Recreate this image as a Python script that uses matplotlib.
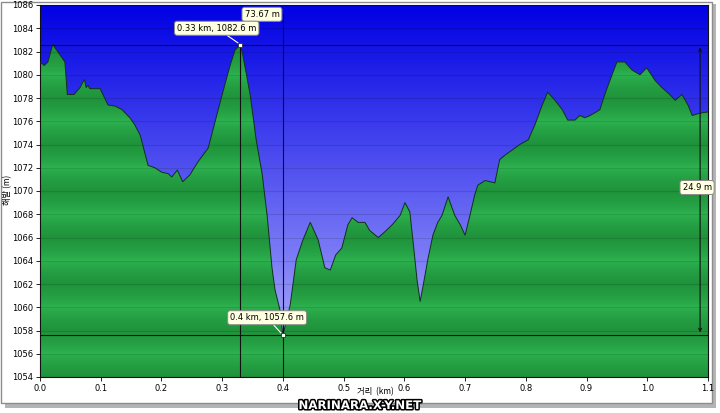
# 고도 프로파일 (거리-해발) 그래프
import numpy as np
import matplotlib
matplotlib.use("Agg")
import matplotlib.pyplot as plt
from matplotlib.patches import Rectangle
import matplotlib.patheffects as pe
from matplotlib.colors import to_rgb

plt.rcParams['font.family'] = ['DejaVu Sans', 'Noto Sans CJK KR']

# 거리 (km) / 해발 (m) - 그림에서 읽은 값
dist = [0.000, 0.007, 0.013, 0.021, 0.033, 0.041, 0.045, 0.056, 0.066, 0.073,
        0.076, 0.079, 0.082, 0.099, 0.112, 0.124, 0.135, 0.148, 0.156, 0.165,
        0.178, 0.189, 0.201, 0.211, 0.217, 0.226, 0.235, 0.247, 0.260, 0.277,
        0.288, 0.300, 0.313, 0.321, 0.330, 0.334, 0.346, 0.356, 0.366, 0.374,
        0.382, 0.387, 0.395, 0.400, 0.412, 0.422, 0.433, 0.445, 0.458, 0.469,
        0.478, 0.487, 0.497, 0.507, 0.514, 0.524, 0.535, 0.543, 0.557, 0.568,
        0.580, 0.593, 0.601, 0.609, 0.614, 0.621, 0.626, 0.631, 0.639, 0.647,
        0.655, 0.662, 0.672, 0.683, 0.692, 0.700, 0.708, 0.716, 0.721, 0.733,
        0.741, 0.749, 0.757, 0.766, 0.777, 0.790, 0.804, 0.815, 0.827, 0.836,
        0.848, 0.860, 0.869, 0.881, 0.889, 0.897, 0.906, 0.916, 0.922, 0.930,
        0.942, 0.950, 0.963, 0.975, 0.988, 0.999, 1.013, 1.024, 1.037, 1.046,
        1.057, 1.067, 1.074, 1.087, 1.100]
elev = [1081.1, 1080.8, 1081.1, 1082.6, 1081.7, 1081.1, 1078.3, 1078.3, 1078.9, 1079.6,
        1078.9, 1079.1, 1078.8, 1078.8, 1077.4, 1077.3, 1077.0, 1076.3, 1075.7, 1074.8,
        1072.2, 1072.0, 1071.6, 1071.5, 1071.2, 1071.8, 1070.8, 1071.4, 1072.5, 1073.7,
        1075.9, 1078.3, 1080.8, 1082.1, 1082.6, 1081.7, 1078.3, 1074.4, 1071.4, 1067.9,
        1063.4, 1061.5, 1059.8, 1057.6, 1060.2, 1064.1, 1065.8, 1067.3, 1065.8, 1063.4,
        1063.2, 1064.5, 1065.1, 1067.1, 1067.7, 1067.3, 1067.3, 1066.6, 1066.0, 1066.5,
        1067.1, 1067.9, 1069.0, 1068.2, 1065.8, 1062.3, 1060.5, 1061.9, 1064.2, 1066.2,
        1067.3, 1067.9, 1069.5, 1067.9, 1067.1, 1066.2, 1067.9, 1069.7, 1070.5, 1070.9,
        1070.8, 1070.7, 1072.7, 1073.1, 1073.5, 1074.0, 1074.4, 1075.7, 1077.4, 1078.5,
        1077.8, 1077.0, 1076.1, 1076.1, 1076.5, 1076.3, 1076.5, 1076.8, 1077.0, 1078.3,
        1080.0, 1081.1, 1081.1, 1080.4, 1080.0, 1080.6, 1079.5, 1078.9, 1078.3, 1077.8,
        1078.3, 1077.4, 1076.5, 1076.7, 1076.8]

x_ticks = [0.0, 0.1, 0.2, 0.3, 0.4, 0.5, 0.6, 0.7, 0.8, 0.9, 1.0, 1.1]
y_ticks = list(range(1054, 1087, 2))

p_max = (0.33, 1082.6)
p_min = (0.40, 1057.6)

ymin, ymax = 1054, 1086
xmin, xmax = 0.0, 1.1

fig = plt.figure(figsize=(7.2, 4.13), dpi=100)
fig.patch.set_facecolor('white')
ax = fig.add_axes([40/720, 1-377/413, 668/720, 372/413])

# 파란 배경 그라데이션
n = 600
yy = np.linspace(ymin, ymax, n)
top = np.array(to_rgb('#0000e4'))
bot = np.array(to_rgb('#b8b8ff'))
t = ((yy - ymin) / (ymax - ymin))[:, None]
blue = bot + (top - bot) * t
ax.imshow(blue[:, None, :], extent=[xmin, xmax, ymin, ymax], aspect='auto',
          origin='lower', zorder=0, interpolation='bilinear')

# 초록 줄무늬 채우기
light = np.array(to_rgb('#2fb652'))
dark = np.array(to_rgb('#1a8734'))
ph = ((yy - 1054) % 4) / 4
b = np.clip(np.abs(ph - 0.5) * 2, 0, 1) ** 0.6   # 1056 근처 밝게
b = 1 - b
green = dark + (light - dark) * (0.25 + 0.75 * b[:, None])
poly = ax.fill_between(dist, elev, ymin, color='none', zorder=1)
img = ax.imshow(green[:, None, :], extent=[xmin, xmax, ymin, ymax], aspect='auto',
                origin='lower', zorder=1, interpolation='bilinear')
img.set_clip_path(poly.get_paths()[0], transform=ax.transData)
ax.plot(dist, elev, color='#123018', lw=0.7, zorder=3)

for yv in y_ticks:
    ax.axhline(yv, color='k', alpha=0.12, lw=0.8, zorder=2)

ax.set_xlim(xmin, xmax)
ax.set_ylim(ymin, ymax)
ax.set_xticks(x_ticks)
ax.set_yticks(y_ticks)
ax.set_xticklabels(['%.1f' % v for v in x_ticks])
ax.tick_params(labelsize=6, length=3, width=0.6, pad=2)
for s in ax.spines.values():
    s.set_linewidth(0.8)
    s.set_color('#101010')

# 최고/최저 표시선
ax.axhline(p_max[1], color='#101010', lw=0.8, zorder=4)
ax.axhline(p_min[1], color='#101010', lw=0.8, zorder=4)
ax.plot([p_max[0], p_max[0]], [ymin, p_max[1]], color='#101010', lw=0.8, zorder=4)
ax.plot([p_min[0], p_min[0]], [ymin, 1085.2], color='#101010', lw=0.8, zorder=4)

# 치수선
ax.annotate('', xy=(p_min[0], 1085.2), xytext=(p_max[0], 1085.2),
            arrowprops=dict(arrowstyle='<->', color='#101010', lw=0.8,
                            mutation_scale=5), zorder=5)
ax.annotate('', xy=(1.087, p_min[1]), xytext=(1.087, p_max[1]),
            arrowprops=dict(arrowstyle='<->', color='#101010', lw=0.8,
                            mutation_scale=5), zorder=5)

box = dict(boxstyle='round,pad=0.3,rounding_size=0.3', fc='#ffffe1', ec='#8a8a8a', lw=0.7)
ax.text(0.3655, 1085.2, '73.67 m', fontsize=6, ha='center', va='center', bbox=box, zorder=6)
ax.text(1.082, 1070.3, '24.9 m', fontsize=6, ha='center', va='center', bbox=box, zorder=6)
ax.annotate('0.33 km, 1082.6 m', xy=p_max, xytext=(0.291, 1084.0), fontsize=6,
            ha='center', va='center', bbox=box, zorder=6,
            arrowprops=dict(arrowstyle='-', color='#ffffff', lw=0.8, shrinkA=0, shrinkB=2))
ax.annotate('0.4 km, 1057.6 m', xy=p_min, xytext=(0.374, 1059.1), fontsize=6,
            ha='center', va='center', bbox=box, zorder=6,
            arrowprops=dict(arrowstyle='-', color='#ffffff', lw=0.8, shrinkA=0, shrinkB=2))
ax.plot(*p_max, marker='s', ms=3, mfc='white', mec='#303030', mew=0.6, zorder=7)
ax.plot(*p_min, marker='s', ms=3, mfc='white', mec='#303030', mew=0.6, zorder=7)

# 축 이름
fig.text(8/720, 1-190/413, '해발 (m)', rotation=90, fontsize=6, ha='center', va='center',
         family=['Noto Sans CJK KR', 'DejaVu Sans'])
fig.text(375/720, 1-392/413, '거리  (km)', fontsize=6, ha='center', va='center',
         family=['Noto Sans CJK KR', 'DejaVu Sans'])

# 테두리와 그림자
fig.patches.append(Rectangle((5/720, 1-408/413), 711/720, 404/413,
                             transform=fig.transFigure, fc='#b4b4b4', ec='none', zorder=-2))
fig.patches.append(Rectangle((1/720, 1-403/413), 711/720, 401/413,
                             transform=fig.transFigure, fc='white', ec='#8c8c8c', lw=1, zorder=-1))

fig.text(360/720, 1-405.5/413, 'NARINARA.X-Y.NET', fontsize=8.5, fontweight='bold',
         color='white', ha='center', va='center',
         path_effects=[pe.withStroke(linewidth=2.2, foreground='black')])

fig.savefig('out.png', dpi=100)
